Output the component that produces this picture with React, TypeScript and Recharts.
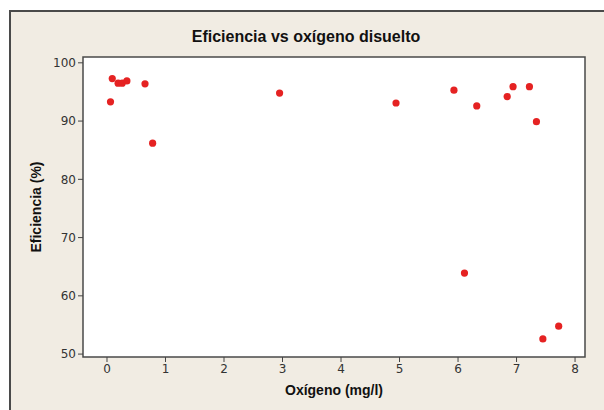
import { ScatterChart, Scatter, XAxis, YAxis, ReferenceArea } from "recharts";

const oxygen = [0.09, 0.06, 0.19, 0.26, 0.34, 0.65, 0.78, 2.95, 4.94, 5.93, 6.11, 6.32, 6.84, 6.94, 7.22, 7.34, 7.45, 7.72];
const efficiency = [97.3, 93.3, 96.5, 96.5, 96.9, 96.4, 86.2, 94.8, 93.1, 95.3, 63.9, 92.6, 94.2, 95.9, 95.9, 89.9, 52.6, 54.8];
const xTicks = [0, 1, 2, 3, 4, 5, 6, 7, 8];
const yTicks = [50, 60, 70, 80, 90, 100];

const points = oxygen.map((x, i) => ({ x, y: efficiency[i] }));

const xMin = -0.41;
const xMax = 8.17;
const yMin = 49.5;
const yMax = 101;

const tickStyle = { fontSize: 12, fill: "#333", fontFamily: "'DejaVu Sans', sans-serif" };
const labelFont = "'Liberation Sans', Arial, sans-serif";

function Dot(props: { cx?: number; cy?: number }) {
  return <circle cx={props.cx} cy={props.cy} r={3.6} fill="#e52222" />;
}

export default function App() {
  return (
    <div style={{ position: "absolute", left: 0, top: 0, width: 604, height: 410, background: "#fff", overflow: "hidden" }}>
      <div
        style={{
          position: "absolute",
          left: 9,
          top: 10,
          width: 600,
          height: 405,
          background: "#f1ece3",
          borderLeft: "2px solid #4a4a4a",
          borderTop: "2px solid #4a4a4a",
        }}
      />
      <div
        style={{
          position: "absolute",
          left: 0,
          top: 28,
          width: 612,
          textAlign: "center",
          fontFamily: labelFont,
          fontWeight: "bold",
          fontSize: 16,
          color: "#111",
        }}
      >
        Eficiencia vs oxígeno disuelto
      </div>
      <div style={{ position: "absolute", left: 0, top: 0 }}>
        <ScatterChart width={604} height={410} margin={{ top: 57, right: 19, bottom: 23, left: 33 }}>
          <XAxis
            type="number"
            dataKey="x"
            domain={[xMin, xMax]}
            ticks={xTicks}
            allowDataOverflow
            height={30}
            tick={tickStyle}
            tickSize={5}
            axisLine={false}
            tickLine={{ stroke: "#444" }}
            label={{
              value: "Oxígeno (mg/l)",
              position: "insideBottom",
              offset: -8,
              style: { fontSize: 14, fontWeight: "bold", fill: "#111", fontFamily: labelFont },
            }}
          />
          <YAxis
            type="number"
            dataKey="y"
            domain={[yMin, yMax]}
            ticks={yTicks}
            allowDataOverflow
            width={50}
            tick={tickStyle}
            tickSize={5}
            axisLine={false}
            tickLine={{ stroke: "#444" }}
            label={{
              value: "Eficiencia (%)",
              angle: -90,
              position: "insideLeft",
              offset: 3,
              style: { fontSize: 14, fontWeight: "bold", fill: "#111", fontFamily: labelFont, textAnchor: "middle" },
            }}
          />
          <ReferenceArea
            x1={xMin}
            x2={xMax}
            y1={yMin}
            y2={yMax}
            ifOverflow="visible"
            fill="#ffffff"
            fillOpacity={1}
            stroke="#4a4a4a"
            strokeWidth={1.5}
          />
          <Scatter data={points} shape={<Dot />} isAnimationActive={false} />
        </ScatterChart>
      </div>
    </div>
  );
}
